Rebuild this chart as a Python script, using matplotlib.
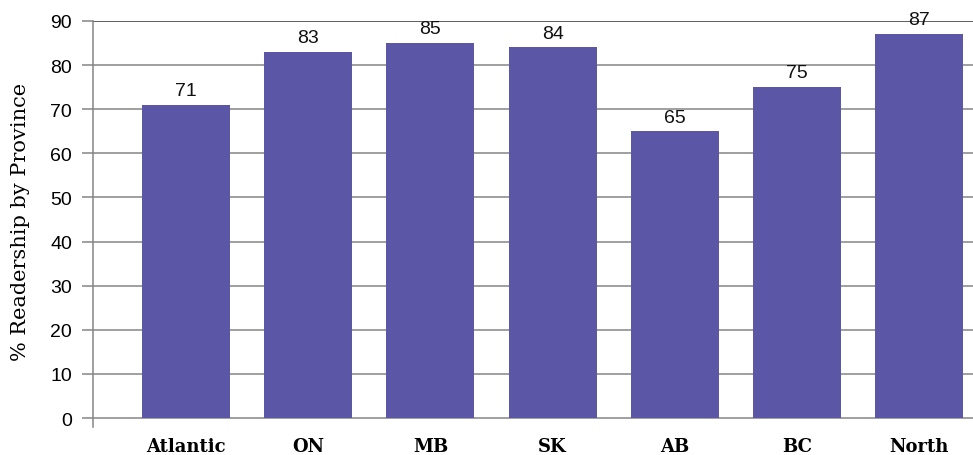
import matplotlib
matplotlib.use("Agg")
import matplotlib.pyplot as plt

categories = ["Atlantic", "ON", "MB", "SK", "AB", "BC", "North"]
values = [71, 83, 85, 84, 65, 75, 87]
yticks = [0, 10, 20, 30, 40, 50, 60, 70, 80, 90]

fig = plt.figure(figsize=(9.73, 4.56), dpi=100)
ax = fig.add_axes([93/973, 28/456, 1 - 93/973, 406/456])

x = list(range(len(categories)))
bars = ax.bar(x, values, width=0.72, color="#5B56A5", zorder=3)

ax.set_xlim(-0.762, 6.44)
ax.set_ylim(-2.04, 90)

grid_col = "#858585"
for t in yticks:
    ax.axhline(t, color=("#333333" if t == 90 else grid_col), lw=1.1, zorder=1)

ax.set_yticks(yticks)
ax.set_yticklabels([str(t) for t in yticks], fontsize=14, family="Liberation Sans")
ax.tick_params(axis="y", length=8, width=1.1, color=grid_col, pad=7)
ax.set_xticks(x)
ax.set_xticklabels(categories, fontsize=13, family="DejaVu Serif", fontweight="bold")
ax.tick_params(axis="x", length=0, pad=7)

for s in ["top", "right", "bottom"]:
    ax.spines[s].set_visible(False)
ax.spines["left"].set_color(grid_col)
ax.spines["left"].set_linewidth(1.1)

for xi, v in zip(x, values):
    ax.text(xi, v + 1.3, str(v), ha="center", va="bottom", fontsize=14,
            family="Liberation Sans", color="#111111", zorder=4)

ax.set_ylabel("% Readership by Province", fontsize=15, family="DejaVu Serif")
ax.yaxis.set_label_coords(-0.072, 0.507)

fig.savefig("out.png", dpi=100)
